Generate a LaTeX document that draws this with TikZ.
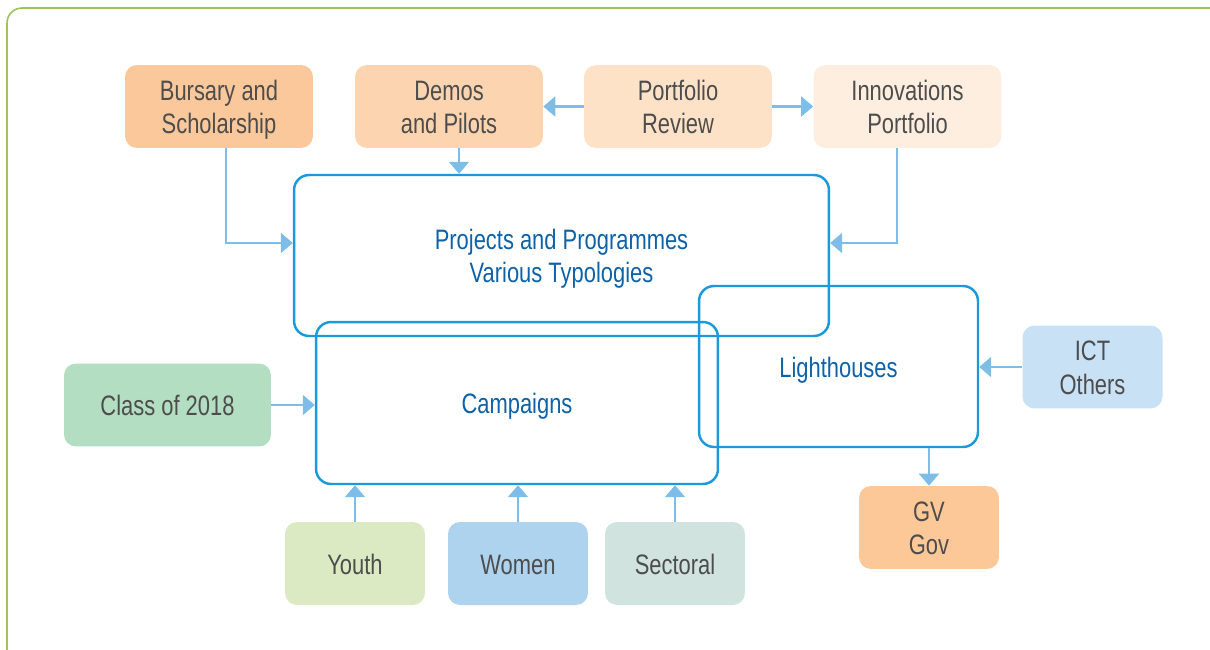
\documentclass[tikz,border=0pt]{standalone}
\usepackage{fontspec}
\setmainfont{Liberation Sans}[FakeStretch=0.78]
\usetikzlibrary{arrows.meta}
\definecolor{framegreen}{HTML}{9CC45A}
\definecolor{boxblue}{HTML}{1B9ADB}
\definecolor{textblue}{HTML}{0E62A8}
\definecolor{arrowblue}{HTML}{7DBDE8}
\definecolor{txtgray}{HTML}{4D4D4D}
\definecolor{cBursary}{HTML}{FAC89A}
\definecolor{cDemo}{HTML}{FCD5B0}
\definecolor{cReview}{HTML}{FDE2C8}
\definecolor{cInnov}{HTML}{FEEEDF}
\definecolor{cClass}{HTML}{B3DEC1}
\definecolor{cICT}{HTML}{C8E1F4}
\definecolor{cGV}{HTML}{FCC898}
\definecolor{cYouth}{HTML}{DCEAC3}
\definecolor{cWomen}{HTML}{AED3EF}
\definecolor{cSector}{HTML}{D0E3DE}
% text a little lower than the box centre
\newcommand{\boxtext}[1]{\raisebox{-0.075cm}[\height][\depth]{\begin{tabular}{@{}c@{}}#1\end{tabular}}}
\tikzset{
  lbl/.style={font=\fontsize{16}{19.3}\selectfont},
  tagbox/.style={lbl, text=txtgray, rounded corners=0.24cm, inner sep=0pt,
    minimum width=3.76cm, minimum height=1.66cm},
  smallbox/.style={tagbox, minimum width=2.8cm},
  bigbox/.style={lbl, text=textblue, draw=boxblue, line width=1.4pt,
    rounded corners=0.3cm, inner sep=0pt},
  arr/.style={draw=arrowblue, line width=1.3pt,
    -{Triangle[width=0.4cm,length=0.24cm]}}
}
\begin{document}
\begin{tikzpicture}[x=0.02cm,y=-0.02cm]
\useasboundingbox (0,0) rectangle (1210,649);
\clip (0,0) rectangle (1210,649);
\draw [framegreen, line width=0.9pt, rounded corners=0.3cm] (7,8) rectangle (1240,680);
%
\node (bur) [tagbox, fill=cBursary] at (219,106.5) {\boxtext{Bursary and\\Scholarship}};
\node (demo) [tagbox, fill=cDemo] at (449,106.5) {\boxtext{Demos\\and Pilots}};
\node (rev) [tagbox, fill=cReview] at (678,106.5) {\boxtext{Portfolio\\Review}};
\node (innov) [tagbox, fill=cInnov] at (907.5,106.5) {\boxtext{Innovations\\Portfolio}};
%
\node (proj) [bigbox, minimum width=10.7cm, minimum height=3.22cm] at (561.5,255.5) {\boxtext{Projects and Programmes\\Various Typologies}};
\node (camp) [bigbox, minimum width=8.04cm, minimum height=3.24cm] at (517,403) {\boxtext{Campaigns}};
\node (light) [bigbox, minimum width=5.58cm, minimum height=3.22cm] at (838.5,366.5) {\boxtext{Lighthouses}};
%
\node (cls) [tagbox, fill=cClass, minimum width=4.14cm] at (167.5,405) {\boxtext{Class of 2018}};
\node (ict) [smallbox, fill=cICT] at (1092.5,367) {\boxtext{ICT\\Others}};
\node (gv) [smallbox, fill=cGV] at (929,527.5) {\boxtext{GV\\Gov}};
\node (youth) [smallbox, fill=cYouth] at (355,563.5) {\boxtext{Youth}};
\node (women) [smallbox, fill=cWomen] at (518,563.5) {\boxtext{Women}};
\node (sect) [smallbox, fill=cSector] at (675,563.5) {\boxtext{Sectoral}};
%
\draw [arr] (rev.west) -- (demo.east);
\draw [arr] (rev.east) -- (innov.west);
\draw [arr] ([xshift=0.2cm]demo.south) -- ([xshift=0.2cm]demo.south |- proj.north);
\draw [arr] ([xshift=0.14cm]bur.south) |- ([yshift=0.25cm]proj.west);
\draw [arr] ([xshift=-0.21cm]innov.south) |- ([yshift=0.25cm]proj.east);
%
\draw [arr] (cls.east) -- (cls.east -| camp.west);
\draw [arr] (ict.west) -- (ict.west -| light.east);
\draw [arr] (light.south -| gv.north) -- (gv.north);
\draw [arr] (youth.north) -- (youth.north |- camp.south);
\draw [arr] (women.north) -- (women.north |- camp.south);
\draw [arr] (sect.north) -- (sect.north |- camp.south);
\end{tikzpicture}
\end{document}
